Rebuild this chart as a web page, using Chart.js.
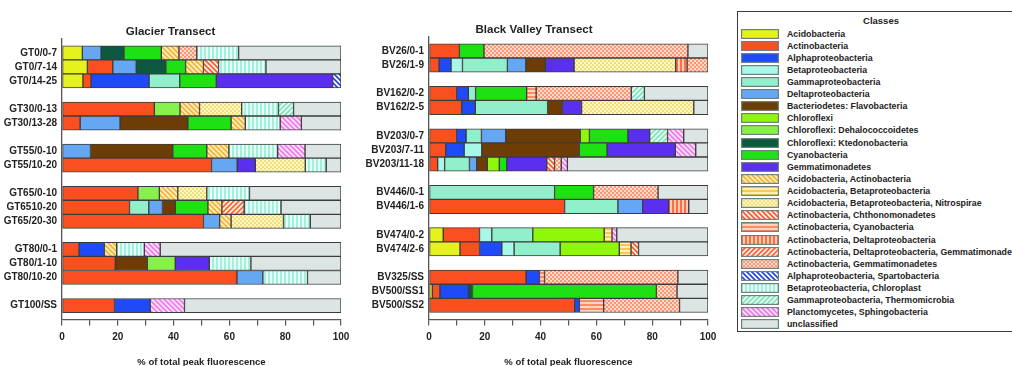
<!DOCTYPE html>
<html>
<head>
<meta charset="utf-8">
<script src="https://cdn.jsdelivr.net/npm/chart.js@4/dist/chart.umd.min.js"></script>
<style>
  html,body{margin:0;padding:0;background:#fff;}
  body{width:1012px;height:366px;overflow:hidden;position:relative;font-family:"Liberation Sans",Arial,sans-serif;}
  canvas{position:absolute;top:0;}
  #legend{position:absolute;left:737px;top:11px;width:290px;height:321px;border:1px solid #3a3a3a;box-sizing:border-box;}
  #legend .ttl{position:absolute;left:0;width:286px;top:3px;text-align:center;font-weight:bold;font-size:9.5px;color:#222;}
  #legend .row{position:absolute;left:3px;height:12px;white-space:nowrap;}
  #legend .row canvas{position:absolute;left:0;top:1px;}
  #legend .row span{position:absolute;left:46px;top:0;line-height:12px;font-weight:bold;font-size:8.8px;color:#222;}
</style>
</head>
<body>
<canvas id="gt" width="356" height="368" style="left:0px"></canvas>
<canvas id="bv" width="365" height="368" style="left:360px"></canvas>
<div id="legend"><div class="ttl">Classes</div></div>
<script>
// ---------- classes ----------
const classCodes = ['Acido','Actino','Alpha','Beta','Gamma','Delta','Flavo','Chlf','Dehalo','Kted','Cyano','Gemma',
  'AcAct','AcBeta','AcBetaNitro','ActChth','ActCyano','ActDelta','ActDeltaGem','ActGem','AlphaSparto','BetaChl','GammaThermo','Plancto','Uncl'];
const classNames = ['Acidobacteria','Actinobacteria','Alphaproteobacteria','Betaproteobacteria','Gammaproteobacteria',
  'Deltaproteobacteria','Bacteriodetes: Flavobacteria','Chloroflexi','Chloroflexi: Dehalococcoidetes','Chloroflexi: Ktedonobacteria',
  'Cyanobacteria','Gemmatimonadetes','Acidobacteria, Actinobacteria','Acidobacteria, Betaproteobacteria',
  'Acidobacteria, Betaproteobacteria, Nitrospirae','Actinobacteria, Chthonomonadetes','Actinobacteria, Cyanobacteria',
  'Actinobacteria, Deltaproteobacteria','Actinobacteria, Deltaproteobacteria, Gemmatimonadetes','Actinobacteria, Gemmatimonadetes',
  'Alphaproteobacteria, Spartobacteria','Betaproteobacteria, Chloroplast','Gammaproteobacteria, Thermomicrobia',
  'Planctomycetes, Sphingobacteria','unclassified'];

// ---------- Glacier transect ----------
const glacierLabels = ['', 'GT0/0-7','GT0/7-14','GT0/14-25','', 'GT30/0-13','GT30/13-28','', 'GT55/0-10','GT55/10-20','',
  'GT65/0-10','GT6510-20','GT65/20-30','', 'GT80/0-1','GT80/1-10','GT80/10-20','', 'GT100/SS',''];
const GT0_0_7   = {Acido:7.3, Delta:6.7, Kted:8.2, Cyano:13.4, AcAct:6.3, ActGem:6.4, BetaChl:15.0, Uncl:36.7};
const GT0_7_14  = {Acido:9.1, Actino:9.1, Delta:8.4, Kted:10.6, Cyano:7.1, AcAct:6.4, ActChth:5.4, BetaChl:17.0, Uncl:26.9};
const GT0_14_25 = {Acido:7.5, Actino:2.9, Alpha:20.8, Gamma:11.0, Cyano:13.1, Gemma:41.7, AlphaSparto:3.0};
const GT30_0_13 = {Actino:33.1, Dehalo:9.2, AcAct:7.0, AcBetaNitro:15.1, BetaChl:13.2, GammaThermo:5.4, Uncl:17.0};
const GT30_13_28= {Actino:6.5, Delta:14.3, Flavo:24.3, Cyano:15.5, AcAct:5.1, BetaChl:12.5, Plancto:7.6, Uncl:14.2};
const GT55_0_10 = {Delta:10.2, Flavo:29.5, Cyano:12.2, AcAct:7.9, BetaChl:17.5, Plancto:9.8, Uncl:12.9};
const GT55_10_20= {Actino:53.6, Delta:9.2, Gemma:6.5, AcBetaNitro:17.9, BetaChl:7.5, Uncl:5.3};
const GT65_0_10 = {Actino:27.2, Dehalo:7.7, AcAct:6.6, AcBetaNitro:10.4, BetaChl:15.3, Uncl:32.8};
const GT65_10_20= {Actino:24.2, Gamma:6.9, Delta:4.9, Flavo:4.6, Cyano:11.7, AcAct:5.0, ActDeltaGem:8.0, BetaChl:13.2, Uncl:21.5};
const GT65_20_30= {Actino:50.7, Delta:5.8, AcAct:4.1, AcBetaNitro:18.8, BetaChl:9.6, Uncl:11.0};
const GT80_0_1  = {Actino:6.1, Alpha:9.1, AcAct:4.4, BetaChl:9.9, Plancto:5.7, Uncl:64.8};
const GT80_1_10 = {Actino:19.1, Flavo:11.5, Dehalo:10.0, Gemma:12.2, BetaChl:14.9, Uncl:32.3};
const GT80_10_20= {Actino:62.7, Delta:9.3, BetaChl:16.0, Uncl:12.0};
const GT100_SS  = {Actino:18.8, Alpha:12.8, Plancto:12.3, Uncl:56.1};
const glacierRows = [null, GT0_0_7, GT0_7_14, GT0_14_25, null, GT30_0_13, GT30_13_28, null, GT55_0_10, GT55_10_20, null,
  GT65_0_10, GT65_10_20, GT65_20_30, null, GT80_0_1, GT80_1_10, GT80_10_20, null, GT100_SS, null];

// ---------- Black Valley transect ----------
const valleyLabels = ['', 'BV26/0-1','BV26/1-9','', 'BV162/0-2','BV162/2-5','', 'BV203/0-7','BV203/7-11','BV203/11-18','',
  'BV446/0-1','BV446/1-6','', 'BV474/0-2','BV474/2-6','', 'BV325/SS','BV500/SS1','BV500/SS2',''];
const BV26_0_1   = {Actino:10.9, Cyano:8.8, ActGem:73.1, Uncl:7.2};
const BV26_1_9   = {Actino:3.6, Alpha:4.3, Beta:4.1, Gamma:16.1, Delta:6.6, Flavo:7.0, Gemma:10.3, AcBetaNitro:36.4, ActDelta:4.1, ActGem:7.5};
const BV162_0_2  = {Actino:9.9, Alpha:4.2, Gamma:2.6, Cyano:18.3, ActCyano:3.4, ActGem:34.1, GammaThermo:4.7, Uncl:22.8};
const BV162_2_5  = {Actino:11.7, Alpha:4.9, Gamma:25.9, Flavo:5.3, Gemma:6.9, AcBetaNitro:40.2, Uncl:5.1};
const BV203_0_7  = {Actino:9.9, Alpha:3.4, Gamma:5.5, Delta:8.7, Flavo:26.7, Chlf:3.3, Cyano:13.8, Gemma:7.8, GammaThermo:6.4, Plancto:5.8, Uncl:8.7};
const BV203_7_11 = {Actino:6.0, Alpha:6.6, Beta:6.3, Flavo:35.0, Cyano:9.9, Gemma:24.5, Plancto:7.3, Uncl:4.4};
const BV203_11_18= {Actino:3.1, Beta:2.5, Gamma:8.9, Delta:2.6, Flavo:3.8, Chlf:4.3, Cyano:2.7, Gemma:14.3, ActChth:2.8, ActGem:2.4, Plancto:2.2, Uncl:50.4};
const BV446_0_1  = {Gamma:45.0, Cyano:14.0, ActGem:23.1, Uncl:17.9};
const BV446_1_6  = {Actino:48.6, Gamma:19.1, Delta:8.9, Gemma:9.3, ActDelta:7.2, Uncl:6.9};
const BV474_0_2  = {Acido:5.1, Actino:13.0, Beta:4.4, Gamma:14.7, Chlf:25.6, AcBeta:2.8, Plancto:1.7, Uncl:32.7};
const BV474_2_6  = {Acido:11.1, Actino:7.0, Alpha:8.0, Beta:4.4, Gamma:16.5, Chlf:21.2, AcBeta:4.2, ActChth:2.7, Uncl:24.9};
const BV325_SS   = {Actino:34.8, Alpha:4.8, ActCyano:1.8, ActGem:47.8, Uncl:10.8};
const BV500_SS1  = {Acido:1.2, Actino:2.7, Alpha:10.2, Kted:1.5, Cyano:65.9, ActGem:7.4, Uncl:11.1};
const BV500_SS2  = {Actino:52.2, Alpha:1.7, ActCyano:8.7, ActGem:27.2, Uncl:10.2};
const valleyRows = [null, BV26_0_1, BV26_1_9, null, BV162_0_2, BV162_2_5, null, BV203_0_7, BV203_7_11, BV203_11_18, null,
  BV446_0_1, BV446_1_6, null, BV474_0_2, BV474_2_6, null, BV325_SS, BV500_SS1, BV500_SS2, null];

const xTickLabels = ['0','20','40','60','80','100'];

// ---------- styles ----------
const fillSpec = {
  Acido:'#E6F21E', Actino:'#FA5020', Alpha:'#1E4BF7', Beta:'#A8F7E8', Gamma:'#92EFCB', Delta:'#66A7F4',
  Flavo:'#6E3C05', Chlf:'#8EF70A', Dehalo:'#88F04C', Kted:'#0C5840', Cyano:'#1EE012', Gemma:'#5B2FEF',
  AcAct:['diag','#FFF1BC','#F3B23A'], AcBeta:['h','#FFF0B4','#F6C85A'], AcBetaNitro:['check','#FFF9C8','#F2DE78'],
  ActChth:['diag','#FFF2EC','#FF5A2A'], ActCyano:['h','#FFD4C0','#FF8A64'], ActDelta:['v','#FFCDB2','#FF6E44'],
  ActDeltaGem:['diag2','#FFF0E6','#FF6436'], ActGem:['check','#FFDDCD','#FF9474'], AlphaSparto:['diag','#FFFFFF','#2244E8'],
  BetaChl:['v','#E8FFF9','#A0F0DC'], GammaThermo:['diag2','#E8FFF4','#7FE4BC'], Plancto:['diag','#FFE6FF','#F278EE'],
  Uncl:'#DDE4E4'
};

function makeFill(ctx, spec){
  if (typeof spec === 'string') return spec;
  const [kind,bg,fg] = spec;
  const s = kind==='check' ? 4 : (kind==='h'||kind==='v') ? 4 : 5;
  const c = document.createElement('canvas'); c.width = s; c.height = s;
  const g = c.getContext('2d');
  g.fillStyle = bg; g.fillRect(0,0,s,s);
  g.fillStyle = fg; g.strokeStyle = fg; g.lineWidth = 1.7;
  if (kind==='check'){ g.fillRect(0,0,2,2); g.fillRect(2,2,2,2); }
  else if (kind==='h'){ g.fillRect(0,0,s,2); }
  else if (kind==='v'){ g.fillRect(0,0,2,s); }
  else if (kind==='diag'){ g.beginPath(); for (const k of [-s,0,s]){ g.moveTo(-1,k-1); g.lineTo(s+1,s+k+1);} g.stroke(); }
  else if (kind==='diag2'){ g.beginPath(); for (const k of [0,s,2*s]){ g.moveTo(-1,k+1); g.lineTo(s+1,k-s-1);} g.stroke(); }
  return ctx.createPattern(c,'repeat');
}

Chart.defaults.font.family = '"Liberation Sans", Arial, Helvetica, sans-serif';
Chart.defaults.font.weight = 'bold';
Chart.defaults.color = '#222';

function buildChart(id, labels, rows, title, yWidth, padTop, padRight){
  const canvas = document.getElementById(id);
  const ctx = canvas.getContext('2d');
  const datasets = classCodes.map((code,i)=>({
    label: classNames[i],
    data: rows.map(r => (r && r[code] != null) ? r[code] : null),
    backgroundColor: makeFill(ctx, fillSpec[code]),
    borderColor: '#3c3c3c',
    borderWidth: 1,
    borderSkipped: false,
    barPercentage: 1.0,
    categoryPercentage: 1.0
  }));
  return new Chart(ctx, {
    type: 'bar',
    data: { labels, datasets },
    options: {
      indexAxis: 'y',
      responsive: false,
      animation: false,
      devicePixelRatio: 1,
      layout: { padding: { top: padTop, right: padRight, left: 0, bottom: 0 } },
      plugins: {
        legend: { display: false },
        tooltip: { enabled: false },
        title: { display: true, text: title, font: { size: 11.5, weight: 'bold' }, color: '#222', padding: { top: 0, bottom: 0 } }
      },
      scales: {
        x: {
          stacked: true, min: 0, max: 100,
          grid: { display: true, drawOnChartArea: false, drawTicks: true, tickLength: 6, color: '#555', lineWidth: 1.2 },
          border: { display: true, color: '#555', width: 1.3 },
          ticks: {
            stepSize: 10, padding: 6, autoSkip: false, maxRotation: 0,
            font: { size: 10, weight: 'bold' }, color: '#222',
            callback: (v) => xTickLabels.includes(String(v)) ? String(v) : ''
          },
          title: { display: true, text: '% of total peak fluorescence', font: { size: 9.5, weight: 'bold' }, color: '#222', padding: { top: 7, bottom: 0 } }
        },
        y: {
          stacked: true, offset: false,
          grid: { display: false, drawTicks: false },
          border: { display: true, color: '#555', width: 1.3 },
          ticks: { padding: 5, autoSkip: false, font: { size: 10, weight: 'bold' }, color: '#222' },
          afterFit: (s) => { s.width = yWidth; }
        }
      }
    }
  });
}

buildChart('gt', glacierLabels, glacierRows, 'Glacier Transect', 62, 25, 15);
buildChart('bv', valleyLabels, valleyRows, 'Black Valley Transect', 69, 23, 17);

// ---------- legend ----------
const legend = document.getElementById('legend');
classCodes.forEach((code,i)=>{
  const row = document.createElement('div');
  row.className = 'row';
  row.style.top = (15.5 + i*12.12) + 'px';
  const sw = document.createElement('canvas');
  sw.width = 38; sw.height = 10;
  const g = sw.getContext('2d');
  g.fillStyle = makeFill(g, fillSpec[code]);
  g.fillRect(0,0,38,10);
  g.strokeStyle = '#6f817d'; g.lineWidth = 1.2;
  g.strokeRect(0.6,0.6,36.8,8.8);
  const t = document.createElement('span');
  t.textContent = classNames[i];
  row.appendChild(sw); row.appendChild(t);
  legend.appendChild(row);
});
</script>
</body>
</html>
